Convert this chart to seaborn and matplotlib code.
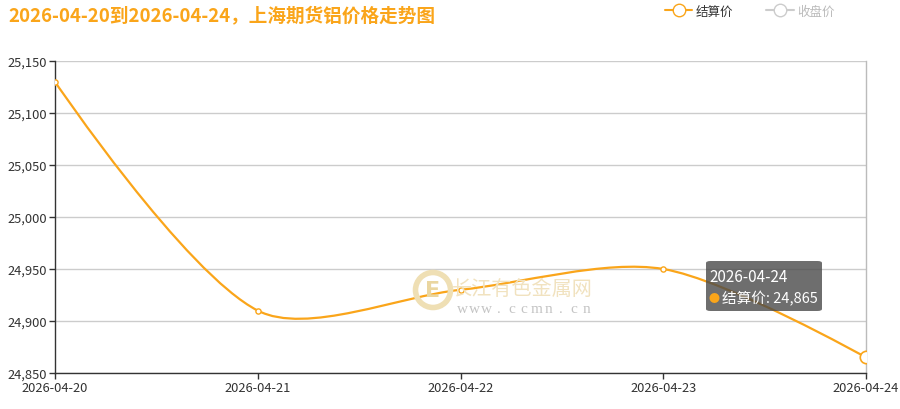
import numpy as np
import pandas as pd
import matplotlib
matplotlib.use('Agg')
import matplotlib.pyplot as plt
import seaborn as sns
from matplotlib.path import Path
from matplotlib.patches import PathPatch, Ellipse, FancyBboxPatch
from matplotlib.lines import Line2D

dates = ['2026-04-20', '2026-04-21', '2026-04-22', '2026-04-23', '2026-04-24']
settle = [25130, 24910, 24930, 24950, 24865]
yticks = [24850, 24900, 24950, 25000, 25050, 25100, 25150]

title = '2026-04-20到2026-04-24，上海期货铝价格走势图'
orange = '#FAA51A'

sns.set_style('white')
plt.rcParams['font.family'] = ['Noto Sans CJK SC', 'DejaVu Sans']

df = pd.DataFrame({'x': range(len(dates)), 'date': dates, 'price': settle})

fig = plt.figure(figsize=(9, 4.1), dpi=100)
ax = fig.add_axes([55 / 900, 1 - 374 / 410, 811 / 900, 312 / 410])


def smooth_path(xs, ys, sx, sy, smooth=0.3):
    # bezier smoothing like the echarts line, computed in pixel space
    px = np.array(xs, float) * sx
    py = np.array(ys, float) * sy
    n = len(px)
    cps = []
    for i in range(n):
        if i == 0 or i == n - 1:
            cps.append(((px[i], py[i]), (px[i], py[i])))
            continue
        vx, vy = px[i + 1] - px[i - 1], py[i + 1] - py[i - 1]
        d0 = np.hypot(px[i] - px[i - 1], py[i] - py[i - 1])
        d1 = np.hypot(px[i + 1] - px[i], py[i + 1] - py[i])
        r0, r1 = d0 / (d0 + d1), d1 / (d0 + d1)
        cin = (px[i] - vx * smooth * r0, py[i] - vy * smooth * r0)
        cout = (px[i] + vx * smooth * r1, py[i] + vy * smooth * r1)
        cps.append((cin, cout))
    verts = [(px[0] / sx, py[0] / sy)]
    codes = [Path.MOVETO]
    for i in range(n - 1):
        c1 = cps[i][1]
        c2 = cps[i + 1][0]
        verts += [(c1[0] / sx, c1[1] / sy), (c2[0] / sx, c2[1] / sy), (px[i + 1] / sx, py[i + 1] / sy)]
        codes += [Path.CURVE4] * 3
    return Path(verts, codes)


path = smooth_path(df['x'], df['price'], 203, 1.04)
ax.add_patch(PathPatch(path, fill=False, edgecolor=orange, lw=1.6, zorder=3))

sns.scatterplot(data=df.iloc[:-1], x='x', y='price', ax=ax, s=14, marker='o',
                facecolor='white', edgecolor=orange, linewidth=1, zorder=4, legend=False)
sns.scatterplot(data=df.iloc[-1:], x='x', y='price', ax=ax, s=80, marker='o',
                facecolor='white', edgecolor=orange, linewidth=1.2, zorder=4, legend=False)

ax.set_xlim(0, len(dates) - 1)
ax.set_ylim(yticks[0], yticks[-1])
ax.set_xticks(range(len(dates)))
ax.set_xticklabels(dates)
ax.set_yticks(yticks)
ax.set_yticklabels([f'{v:,}' for v in yticks])
ax.set_xlabel('')
ax.set_ylabel('')
ax.tick_params(axis='both', labelsize=9.3, colors='#333333', length=4, width=1,
               direction='out', pad=2)
ax.tick_params(axis='both', which='both', bottom=True, left=True)
ax.grid(axis='y', color='#cccccc', lw=1)
ax.grid(axis='x', visible=False)
for side in ['left', 'bottom']:
    ax.spines[side].set_color('#333333')
    ax.spines[side].set_linewidth(1)
ax.spines['top'].set_visible(False)
ax.spines['right'].set_color('#bbbbbb')
ax.spines['right'].set_linewidth(1)

# watermark
fig.patches.append(Ellipse((433 / 900, 1 - 291 / 410), 35 / 900, 35 / 410,
                           transform=fig.transFigure, facecolor='none',
                           edgecolor='#efdfb4', lw=4, zorder=1))
fig.text(433 / 900, 1 - 291 / 410, 'E', color='#ead6a0', fontsize=16, fontweight='bold',
         ha='center', va='center', family='DejaVu Sans', zorder=1)
fig.text(452 / 900, 1 - 289 / 410, '长江有色金属网', color='#f1e2bf', fontsize=14.5,
         ha='left', va='center', zorder=1)
for i, ch in enumerate('www.ccmn.cn'):
    fig.text((462 + i * 12.4) / 900, 1 - 310 / 410, ch, color='#c4c4c4', fontsize=11,
             ha='center', va='center', family='Liberation Serif', zorder=1)

# tooltip
fig.patches.append(FancyBboxPatch((706 / 900, 1 - 312 / 410), 116 / 900, 50 / 410,
                                  boxstyle='round,pad=0,rounding_size=0.005',
                                  transform=fig.transFigure, facecolor='#4a4a4a',
                                  edgecolor='none', alpha=0.8, zorder=10))
fig.text(709 / 900, 1 - 277 / 410, dates[-1], color='white', fontsize=11,
         ha='left', va='center', zorder=11)
fig.text(714 / 900, 1 - 299 / 410, '●', color=orange, fontsize=8,
         ha='center', va='center', zorder=11)
fig.text(722 / 900, 1 - 299 / 410, f'结算价: {settle[-1]:,}', color='white', fontsize=10.5,
         ha='left', va='center', zorder=11)

# title
fig.text(8 / 900, 1 - 16 / 410, title, color=orange, fontsize=13.4, fontweight='bold',
         ha='left', va='center')

# legend
handles = [Line2D([], [], color=orange, marker='o', markersize=9, markerfacecolor='white',
                  lw=1.5),
           Line2D([], [], color='#cccccc', marker='o', markersize=9, markerfacecolor='white',
                  lw=1.5)]
leg = fig.legend(handles, ['结算价', '收盘价'], loc='center right',
                 bbox_to_anchor=(846 / 900, 1 - 12 / 410), ncol=2, frameon=False,
                 fontsize=9, handlelength=2.2, columnspacing=2.6, handletextpad=0.3)
leg.get_texts()[0].set_color('#333333')
leg.get_texts()[1].set_color('#bbbbbb')

fig.savefig('out.png', dpi=100)
